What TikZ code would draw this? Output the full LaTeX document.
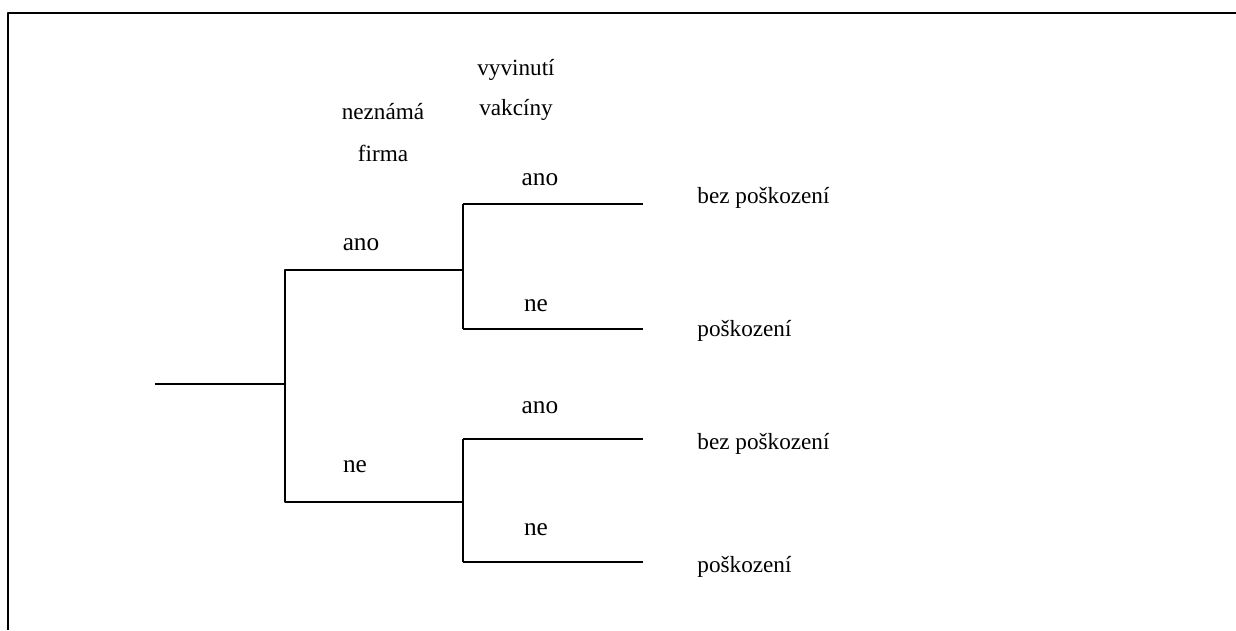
\documentclass[tikz,border=0pt]{standalone}
\usepackage{fontspec}
\setmainfont{Liberation Serif}
\begin{document}
\begin{tikzpicture}[font=\fontsize{11}{13}\selectfont,line join=round,
		branch/.style={line width=0.7pt},
		choice/.style={font=\fontsize{12}{14}\selectfont},
		result/.style={anchor=west}]
		\useasboundingbox (0,0) rectangle (20.6,10.5);
		% frame
		\draw[line width=1pt] (0.133,0)--(0.133,10.283)--(20.6,10.283);
		% tree
		\coordinate (root) at (2.583,4.1);
		\coordinate (f1) at (4.75,4.1);
		\coordinate (fa) at (7.717,6.0);
		\coordinate (fb) at (7.717,2.133);
		\coordinate (faa) at (10.717,7.1);
		\coordinate (fab) at (10.717,5.017);
		\coordinate (fba) at (10.717,3.183);
		\coordinate (fbb) at (10.717,1.133);
		\draw[branch] (root)--(f1) (f1)|-(fa) (f1)|-(fb);
		\draw[branch] (fa|-faa)--(fa|-fab) (fa|-faa)--(faa) (fa|-fab)--(fab);
		\draw[branch] (fb|-fba)--(fb|-fbb) (fb|-fba)--(fba) (fb|-fbb)--(fbb);
		% column heads
		\node (firm1) at (6.383,8.633) {neznámá};
		\node (firm2) at (6.383,7.95) {firma};
		\node (vac1) at (8.6,9.333) {vyvinutí};
		\node (vac2) at (8.6,8.667) {vakcíny};
		% branch labels
		\node[choice] (ano1) at (6.017,6.417) {ano};
		\node[choice] (ne1) at (5.917,2.717) {ne};
		\node[choice] (ano2) at (9.0,7.5) {ano};
		\node[choice] (ne2) at (8.933,5.4) {ne};
		\node[choice] (ano3) at (9.0,3.7) {ano};
		\node[choice] (ne3) at (8.933,1.667) {ne};
		% outcomes
		\node[result] (out1) at (11.5,7.2) {bez poškození};
		\node[result] (out2) at (11.5,4.983) {poškození};
		\node[result] (out3) at (11.5,3.1) {bez poškození};
		\node[result] (out4) at (11.5,1.05) {poškození};
	\end{tikzpicture}
\end{document}
